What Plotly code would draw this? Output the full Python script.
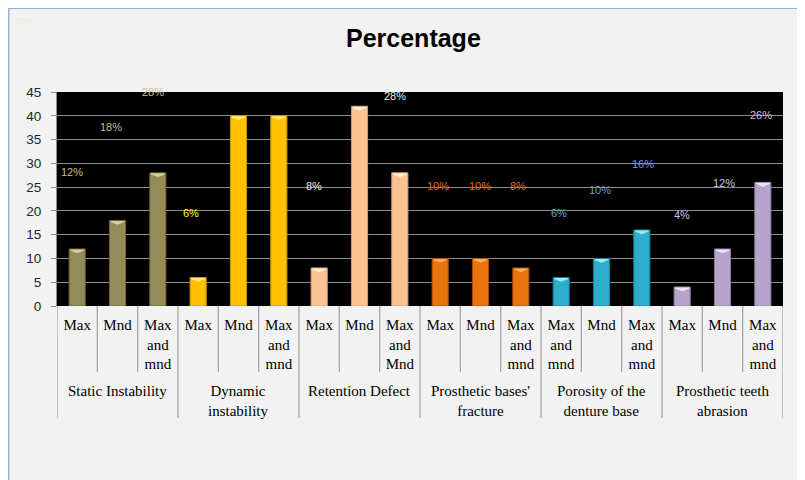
import plotly.graph_objects as go

# ---- data ----
groups = ["Static Instability", "Dynamic<br>instability", "Retention Defect",
          "Prosthetic bases'<br>fracture", "Porosity of the<br>denture base",
          "Prosthetic teeth<br>abrasion"]
sub_labels = [
    ["Max", "Mnd", "Max<br>and<br>mnd"],
    ["Max", "Mnd", "Max<br>and<br>mnd"],
    ["Max", "Mnd", "Max<br>and<br>Mnd"],
    ["Max", "Mnd", "Max<br>and<br>mnd"],
    ["Max<br>and<br>mnd", "Mnd", "Max<br>and<br>mnd"],
    ["Max", "Mnd", "Max<br>and<br>mnd"],
]
static_instability = [12, 18, 28]
dynamic_instability = [6, 40, 40]
retention_defect = [8, 42, 28]
bases_fracture = [10, 10, 8]
porosity = [6, 10, 16]
teeth_abrasion = [4, 12, 26]
y_ticks = [0, 5, 10, 15, 20, 25, 30, 35, 40, 45]

# ---- styling ----
series = [static_instability, dynamic_instability, retention_defect,
          bases_fracture, porosity, teeth_abrasion]
bar_colors = ["#958b59", "#ffc000", "#fbc393", "#e8720c", "#2fadcc", "#b6a5cb"]
line_colors = ["#6b6438", "#c89400", "#d89c6c", "#a94e05", "#1d7c94", "#8a7aa0"]
bevel_colors = ["#ddd5a5", "#fff07a", "#fff3e6", "#ffb36b", "#a6f2ff", "#f3ebff"]
label_colors = ["#c4bd97", "#ffff00", "#fde9d9", "#e36c09", "#6f9fdc", "#ccc1da"]
# label heights (as drawn in the original chart, y-axis units)
label_y = [[28.2, 37.6, 44.9], [19.6, 46.8, 46.8], [25.2, 56.2, 44.2],
           [25.2, 25.2, 25.2], [19.6, 24.4, 29.9], [19.1, 25.9, 40.2]]
label_dx = [[-0.12, -0.15, -0.12], [-0.18, -0.15, 0.0], [-0.12, -0.3, -0.12],
            [-0.05, -0.02, -0.07], [-0.05, -0.03, 0.02], [0.0, 0.03, -0.05]]

fig = go.Figure()
n_sub = 3
x_idx = 0
annotations = []
shapes = []
tickvals, ticktext = [], []
half = 0.2  # half bar width
for g, vals in enumerate(series):
    xs = [x_idx + k for k in range(len(vals))]
    fig.add_trace(go.Bar(
        x=xs, y=vals, width=2 * half,
        marker=dict(color=bar_colors[g], line=dict(color=line_colors[g], width=1)),
        showlegend=False, hoverinfo="y"))
    for k, v in enumerate(vals):
        tickvals.append(xs[k])
        ticktext.append(sub_labels[g][k])
        # bevel highlight at the top of each bar
        shapes.append(dict(
            type="path", xref="x", yref="y", layer="above",
            path=(f"M {xs[k]-half+0.03},{v-0.1} L {xs[k]+half-0.03},{v-0.1} "
                  f"L {xs[k]+half-0.03},{v-0.35} L {xs[k]},{v-0.9} "
                  f"L {xs[k]-half+0.03},{v-0.35} Z"),
            fillcolor=bevel_colors[g], line=dict(width=0), opacity=0.9))
        ann = dict(x=xs[k] + label_dx[g][k], y=label_y[g][k], xref="x", yref="y",
                   text=f"{v}%", showarrow=False, xanchor="center", yanchor="middle",
                   font=dict(family="Liberation Sans", size=11, color=label_colors[g]))
        if g == 2 and k == 1:
            ann["font"]["color"] = "#f0a070"
        annotations.append(ann)
        if k < len(vals) - 1:
            shapes.append(dict(type="line", xref="x", yref="paper",
                               x0=xs[k] + 0.5, x1=xs[k] + 0.5, y0=0, y1=-0.308,
                               line=dict(color="#a6a6a6", width=1.3)))
    # group label
    annotations.append(dict(x=xs[1], y=-0.352, xref="x", yref="paper",
                            text=groups[g], showarrow=False, yanchor="top",
                            font=dict(family="Liberation Serif", size=15, color="#000")))
    x_idx += len(vals)

# group dividers
for b in range(len(series) + 1):
    xb = b * n_sub - 0.5
    shapes.append(dict(type="line", xref="x", yref="paper",
                       x0=xb, x1=xb, y0=0, y1=-0.523,
                       line=dict(color="#a6a6a6", width=1.3)))

# blue frame along the left and top edges
shapes += [
    dict(type="line", xref="paper", yref="paper", x0=-0.0668, x1=-0.0668, y0=-1.0, y1=1.4,
         line=dict(color="#95b3d7", width=2)),
    dict(type="line", xref="paper", yref="paper", x0=-0.0668, x1=1.2, y0=1.392, y1=1.392,
         line=dict(color="#95b3d7", width=2)),
]

# faint stray label at top-left and title
annotations.append(dict(x=-0.045, y=1.33, xref="paper", yref="paper", text="36%",
                        showarrow=False, xanchor="center", yanchor="middle",
                        font=dict(family="Liberation Sans", size=9, color="#f6e2d0")))
annotations.append(dict(x=0.491, y=1.252, xref="paper", yref="paper",
                        text="<b>Percentage</b>", showarrow=False,
                        xanchor="center", yanchor="middle",
                        font=dict(family="Liberation Sans", size=25, color="#000")))

# the page adds an 8px body margin: the figure spans page x 8..805, y 8..480
fig.update_layout(
    width=797, height=472,
    margin=dict(l=49, r=22, t=84, b=174),
    paper_bgcolor="#f2f2f2", plot_bgcolor="#000000",
    annotations=annotations, shapes=shapes,
    bargap=0.6,
)
fig.update_xaxes(range=[-0.5, 17.5], tickvals=tickvals, ticktext=ticktext,
                 ticks="", showgrid=False, zeroline=False, showline=False,
                 automargin=False, ticklabelstandoff=8,
                 tickfont=dict(family="Liberation Serif", size=15, color="#000"),
                 tickangle=0)
fig.update_yaxes(range=[0, 45], tickvals=y_ticks, showgrid=True, gridcolor="#8c8c8c",
                 gridwidth=1, zeroline=False, showline=True, linecolor="#8c8c8c",
                 ticks="outside", ticklen=5, tickcolor="#8c8c8c",
                 automargin=False, ticklabelstandoff=7,
                 tickfont=dict(family="Liberation Sans", size=13.5, color="#262626"))

fig.write_html("out.html")
